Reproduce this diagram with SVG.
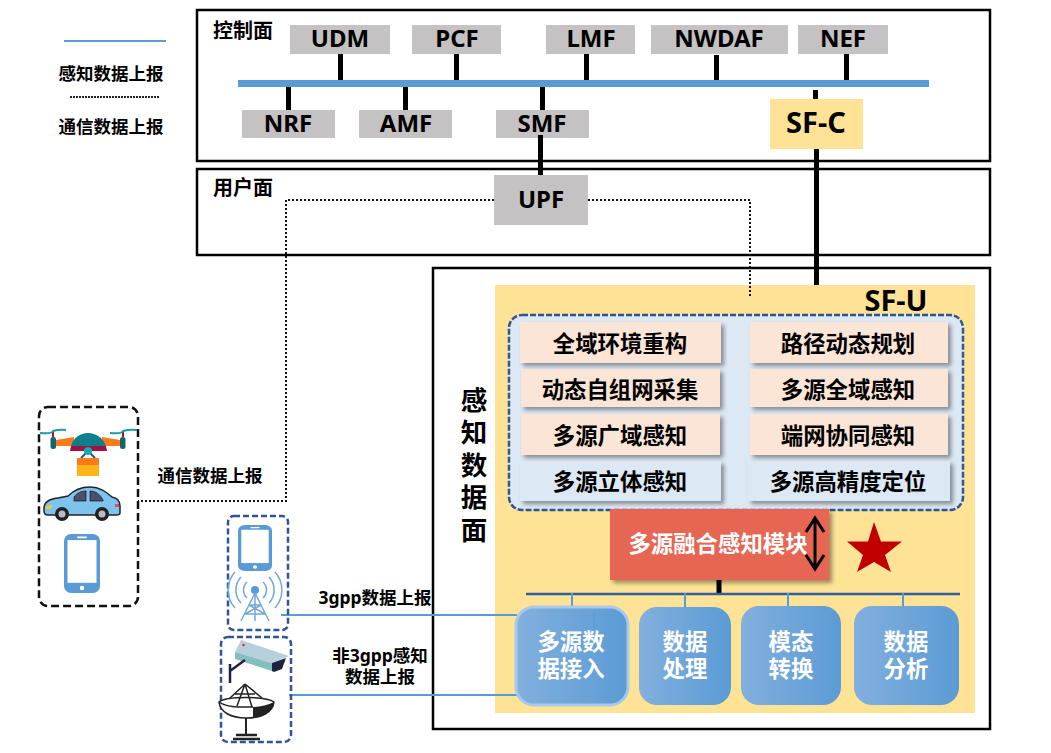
<svg xmlns="http://www.w3.org/2000/svg" width="1051" height="753" viewBox="0 0 1051 753">
<style>
text{font-family:"Noto Sans","Noto Sans CJK SC",sans-serif;font-weight:700;fill:#000;text-anchor:middle}
.frame{fill:none;stroke:#000;stroke-width:2.5}
.nf{fill:#C4C2C3}
.nt{font-size:24px}
.sf{font-size:29px}
.lbl{font-size:17.500px}
.side{font-size:26.500px}
.pl{font-size:20px}
.feat{font-size:22.4px}
.blk{fill:url(#blk)}
.wt{fill:#fff;font-size:22.4px}
.stub{stroke:#000;stroke-width:5;fill:none}
.thin{stroke:#5B9BD5;stroke-width:2;fill:none}
.dot{stroke:#111;stroke-width:2;stroke-dasharray:2 2;fill:none}
.dashb{fill:none;stroke:#2F5597;stroke-width:2.5;stroke-dasharray:6 3}
.arc{stroke:#6FA8DC;stroke-width:1.5;fill:none}
.pe{fill:#FBE5D6;filter:url(#sh)}
.bl{fill:#DCE8F4;filter:url(#sh)}
</style>
<defs>
<linearGradient id="blk" x1="0" y1="0" x2="1" y2="0"><stop offset="0" stop-color="#82B0DE"/><stop offset="1" stop-color="#5B9BD5"/></linearGradient>
<filter id="sh" x="-10%" y="-20%" width="125%" height="150%"><feDropShadow dx="3" dy="3" stdDeviation="2" flood-color="#000" flood-opacity="0.4"/></filter>
<symbol id="phone" viewBox="0 0 36 58" preserveAspectRatio="none">
<rect x="0" y="0" width="36" height="58" rx="7" fill="#5B9BD5"/>
<rect x="3.500" y="6" width="29" height="42" fill="#fff"/>
<rect x="13" y="2.500" width="10" height="1.600" rx="0.800" fill="#fff"/>
<circle cx="18" cy="53" r="2.200" fill="#fff"/>
</symbol>
</defs>

<g id="legend">
<line x1="64" y1="41" x2="166" y2="41" stroke="#5B9BD5" stroke-width="2"/>
<text class="lbl" x="111" y="80">感知数据上报</text>
<line x1="70" y1="97" x2="159" y2="97" stroke="#222" stroke-width="2" stroke-dasharray="2 1"/>
<text class="lbl" x="111" y="133">通信数据上报</text>
</g>

<g id="control-plane">
<rect class="frame" x="197" y="10" width="793" height="151"/>
<text class="pl" x="243" y="38">控制面</text>
</g>
<g id="user-plane">
<rect class="frame" x="197" y="169" width="793" height="86"/>
<text class="pl" x="243" y="195">用户面</text>
</g>
<g id="data-plane">
<rect class="frame" x="433" y="268" width="557" height="461"/>
<text class="side" x="474" y="410">感</text>
<text class="side" x="474" y="442">知</text>
<text class="side" x="474" y="475">数</text>
<text class="side" x="474" y="507">据</text>
<text class="side" x="474" y="540">面</text>
</g>
<g id="sf-u">
<rect x="495" y="285" width="480" height="428" fill="#FEE397"/>
<text class="sf" x="896" y="311">SF-U</text>
</g>

<g id="connectors">
<rect x="238" y="80" width="691" height="7" fill="#5B9BD5"/>
<path class="stub" d="M340.500 54V80M456.500 54V80M586.500 54V80M716.500 55V80M846.500 54V80M288.500 87V110M405.500 87V110M542.500 87V110M815.500 90V99"/>
<path class="stub" d="M540.500 135V175M816.500 149V285M719 580V593"/>
<path class="dot" d="M494 200H286V501H138"/>
<path class="dot" d="M588 200H750V297"/>
<line x1="526" y1="594" x2="960" y2="594" stroke="#2F5F9E" stroke-width="2.500"/>
<path class="thin" d="M572 593V607M685 593V607M788 593V606M903 593V606"/>
<path class="thin" d="M281 615H517M289 695H517"/>
</g>

<g id="udm"><rect class="nf" x="290" y="25" width="100" height="29"/><text class="nt" x="340" y="47">UDM</text></g>
<g id="pcf"><rect class="nf" x="412" y="25" width="89" height="29"/><text class="nt" x="457" y="47">PCF</text></g>
<g id="lmf"><rect class="nf" x="546" y="25" width="89" height="29"/><text class="nt" x="591" y="47">LMF</text></g>
<g id="nwdaf"><rect class="nf" x="651" y="25" width="137" height="29"/><text class="nt" x="719" y="47">NWDAF</text></g>
<g id="nef"><rect class="nf" x="798" y="25" width="90" height="29"/><text class="nt" x="843" y="47">NEF</text></g>
<g id="nrf"><rect class="nf" x="242" y="110" width="93" height="28"/><text class="nt" x="288" y="132">NRF</text></g>
<g id="amf"><rect class="nf" x="359" y="110" width="93" height="28"/><text class="nt" x="406" y="132">AMF</text></g>
<g id="smf"><rect class="nf" x="496" y="110" width="93" height="28"/><text class="nt" x="542" y="132">SMF</text></g>
<path class="stub" d="M540.500 135V144"/>
<g id="sf-c"><rect x="770" y="99" width="93" height="50" fill="#FEE397"/><text class="sf" x="816" y="133">SF-C</text></g>
<g id="upf"><rect class="nf" x="494" y="175" width="94" height="50"/><text class="nt" x="541" y="208">UPF</text></g>

<g id="sensing-functions">
<rect x="509" y="315" width="454" height="195" rx="13" fill="#DCE8F4" stroke="#2F5597" stroke-width="2.500" stroke-dasharray="6 2"/>
<g id="f1"><rect class="pe" x="520" y="322" width="201" height="41"/><text class="feat" x="620" y="352">全域环境重构</text></g>
<g id="f2"><rect class="pe" x="750" y="322" width="198" height="41"/><text class="feat" x="848" y="352">路径动态规划</text></g>
<g id="f3"><rect class="pe" x="521" y="369" width="199" height="38"/><text class="feat" x="620" y="398">动态自组网采集</text></g>
<g id="f4"><rect class="pe" x="750" y="369" width="198" height="38"/><text class="feat" x="848" y="398">多源全域感知</text></g>
<g id="f5"><rect class="pe" x="521" y="414" width="199" height="41"/><text class="feat" x="620" y="444">多源广域感知</text></g>
<g id="f6"><rect class="pe" x="750" y="414" width="198" height="41"/><text class="feat" x="848" y="444">端网协同感知</text></g>
<g id="f7"><rect class="bl" x="520" y="461" width="201" height="40"/><text class="feat" x="620" y="490">多源立体感知</text></g>
<g id="f8"><rect class="bl" x="748" y="461" width="202" height="40"/><text class="feat" x="848" y="490">多源高精度定位</text></g>
</g>

<g id="fusion">
<rect x="610" y="509" width="219" height="71" fill="#E76552" filter="url(#sh)"/>
<text class="wt" x="718" y="552">多源融合感知模块</text>
<path d="M815 518V569M806 532L815 518L824 532M806 555L815 569L824 555" fill="none" stroke="#000" stroke-width="3"/>
</g>
<polygon id="star" points="874,522 881,541.500 902,541.500 885,555 891,572 874,562 857,572 863,555 847,541.500 868,541.500" fill="#C00000"/>

<g id="ingest"><rect class="blk" x="516" y="607" width="112" height="98" rx="18" stroke="#A9C9EA" stroke-width="3"/><path class="thin" d="M594 612V628" stroke-opacity="0.700"/><text class="wt" x="571" y="650">多源数<tspan x="571" dy="27">据接入</tspan></text></g>
<g id="process"><rect class="blk" x="639" y="607" width="92" height="98" rx="18"/><text class="wt" x="685" y="650">数据<tspan x="685" dy="27">处理</tspan></text></g>
<g id="convert"><rect class="blk" x="741" y="606" width="100" height="99" rx="18"/><text class="wt" x="791" y="650">模态<tspan x="791" dy="27">转换</tspan></text></g>
<g id="analyze"><rect class="blk" x="854" y="606" width="105" height="99" rx="18"/><text class="wt" x="906" y="650">数据<tspan x="906" dy="27">分析</tspan></text></g>

<g id="labels">
<text class="lbl" x="210" y="482">通信数据上报</text>
<text class="lbl" x="375" y="604">3gpp数据上报</text>
<text class="lbl" x="380" y="662">非3gpp感知<tspan x="380" dy="21">数据上报</tspan></text>
</g>

<g id="terminals">
<rect x="39" y="407" width="99" height="199" rx="9" fill="none" stroke="#111" stroke-width="2.500" stroke-dasharray="8 4"/>
<g id="drone">
<path d="M56 440L74 437V446L56 446Z M120 440L102 437V446L120 446Z" fill="#FF7A1A"/>
<rect x="50.500" y="437" width="5.500" height="12" rx="2.500" fill="#17626E"/>
<rect x="120" y="437" width="5.500" height="12" rx="2.500" fill="#17626E"/>
<path d="M53 431V437M123 431V437" stroke="#A0123F" stroke-width="2"/>
<path d="M40 433Q52 434 53 431Q60 429 66 430" fill="none" stroke="#1B9BA0" stroke-width="2"/>
<path d="M110 433Q122 434 123 431Q130 429 137 430" fill="none" stroke="#1B9BA0" stroke-width="2"/>
<path d="M71 446C73 438 80 433 88 433C96 433 103 438 106 446Z" fill="#0E7F88"/>
<path d="M71 446H106L107 451H70Z" fill="#A0123F"/>
<path d="M81 458L88 451L95 458" fill="none" stroke="#17626E" stroke-width="2"/>
<circle cx="88" cy="451" r="4" fill="#17A8B0"/>
<rect x="77" y="458" width="22" height="7" fill="#FF7A1A"/>
<rect x="77" y="465" width="22" height="11" fill="#FFB31A"/>
</g>
<g id="car">
<path d="M44 508C44 502 50 499 58 498L68 496C74 490 80 487 90 487C100 487 106 492 112 497C118 498 120 501 120 506V513C120 515 118 515 116 515H48C45 515 44 514 44 511Z" fill="#7CC4EE" stroke="#222" stroke-width="1.500"/>
<path d="M74 497C77 493 81 491 86 491V501H74Z M90 491C95 491 100 494 103 500V501H90Z" fill="#4A4F6B" stroke="#222" stroke-width="0.800"/>
<path d="M45 507L53 504.500L51 509H46Z" fill="#F6C445"/>
<rect x="115" y="504" width="4" height="3" fill="#E5476A"/>
<circle cx="62" cy="514" r="7" fill="#222"/><circle cx="62" cy="514" r="3.500" fill="#B9BCC8"/>
<circle cx="102" cy="514" r="7" fill="#222"/><circle cx="102" cy="514" r="3.500" fill="#B9BCC8"/>
</g>
<use href="#phone" x="64" y="534" width="36" height="59"/>

<rect class="dashb" x="228" y="516" width="60" height="114" rx="6"/>
<use href="#phone" x="238" y="525" width="34" height="46"/>
<g id="tower">
<circle cx="255" cy="590" r="4" fill="#5B9BD5"/>
<path class="arc" d="M255 593L241 621M255 593L269 621M255 593V621M249 605H261M245 614H265M249 605L265 614M261 605L245 614"/>
<path class="arc" d="M247 582A11 11 0 0 0 247 598M263 582A11 11 0 0 1 263 598M241 577A19 19 0 0 0 241 603M269 577A19 19 0 0 1 269 603M235 572A27 27 0 0 0 235 608M275 572A27 27 0 0 1 275 608"/>
</g>

<rect class="dashb" x="221" y="637" width="70" height="105" rx="7"/>
<g id="camera">
<path d="M241 640L289 656L272 663L235 652Z" fill="#B7D0DC"/>
<path d="M235 652L272 663V671L235 659Z" fill="#82BFBD"/>
<path d="M272 663L286 658L282 669L274 672L272 671Z" fill="#1E2440"/>
<circle cx="243.500" cy="645" r="1.300" fill="#E5283A"/>
<path d="M230 683V664M230 671L245 660" stroke="#1E2440" stroke-width="2.500" fill="none"/>
</g>
<g id="dish">
<path d="M219 702C226 696 266 696 274 702C273 712 262 718 246 718C231 718 220 712 219 702Z" fill="#fff" stroke="#222" stroke-width="1.500"/>
<path d="M253 707C260 707 268 705 274 702C273 712 262 718 253 718Z" fill="#222"/>
<path d="M219 702C228 708 240 707 253 707" fill="none" stroke="#222" stroke-width="1.500"/>
<path d="M245 684L229 699M245 684L237 706M245 684L252 707M245 684L262 698M235 694H255" fill="none" stroke="#222" stroke-width="1.500"/>
<path d="M246 718V734" stroke="#222" stroke-width="2"/>
<path d="M236 735H257M233 739H260" stroke="#222" stroke-width="2.500" fill="none"/>
</g>
</g>
</svg>
